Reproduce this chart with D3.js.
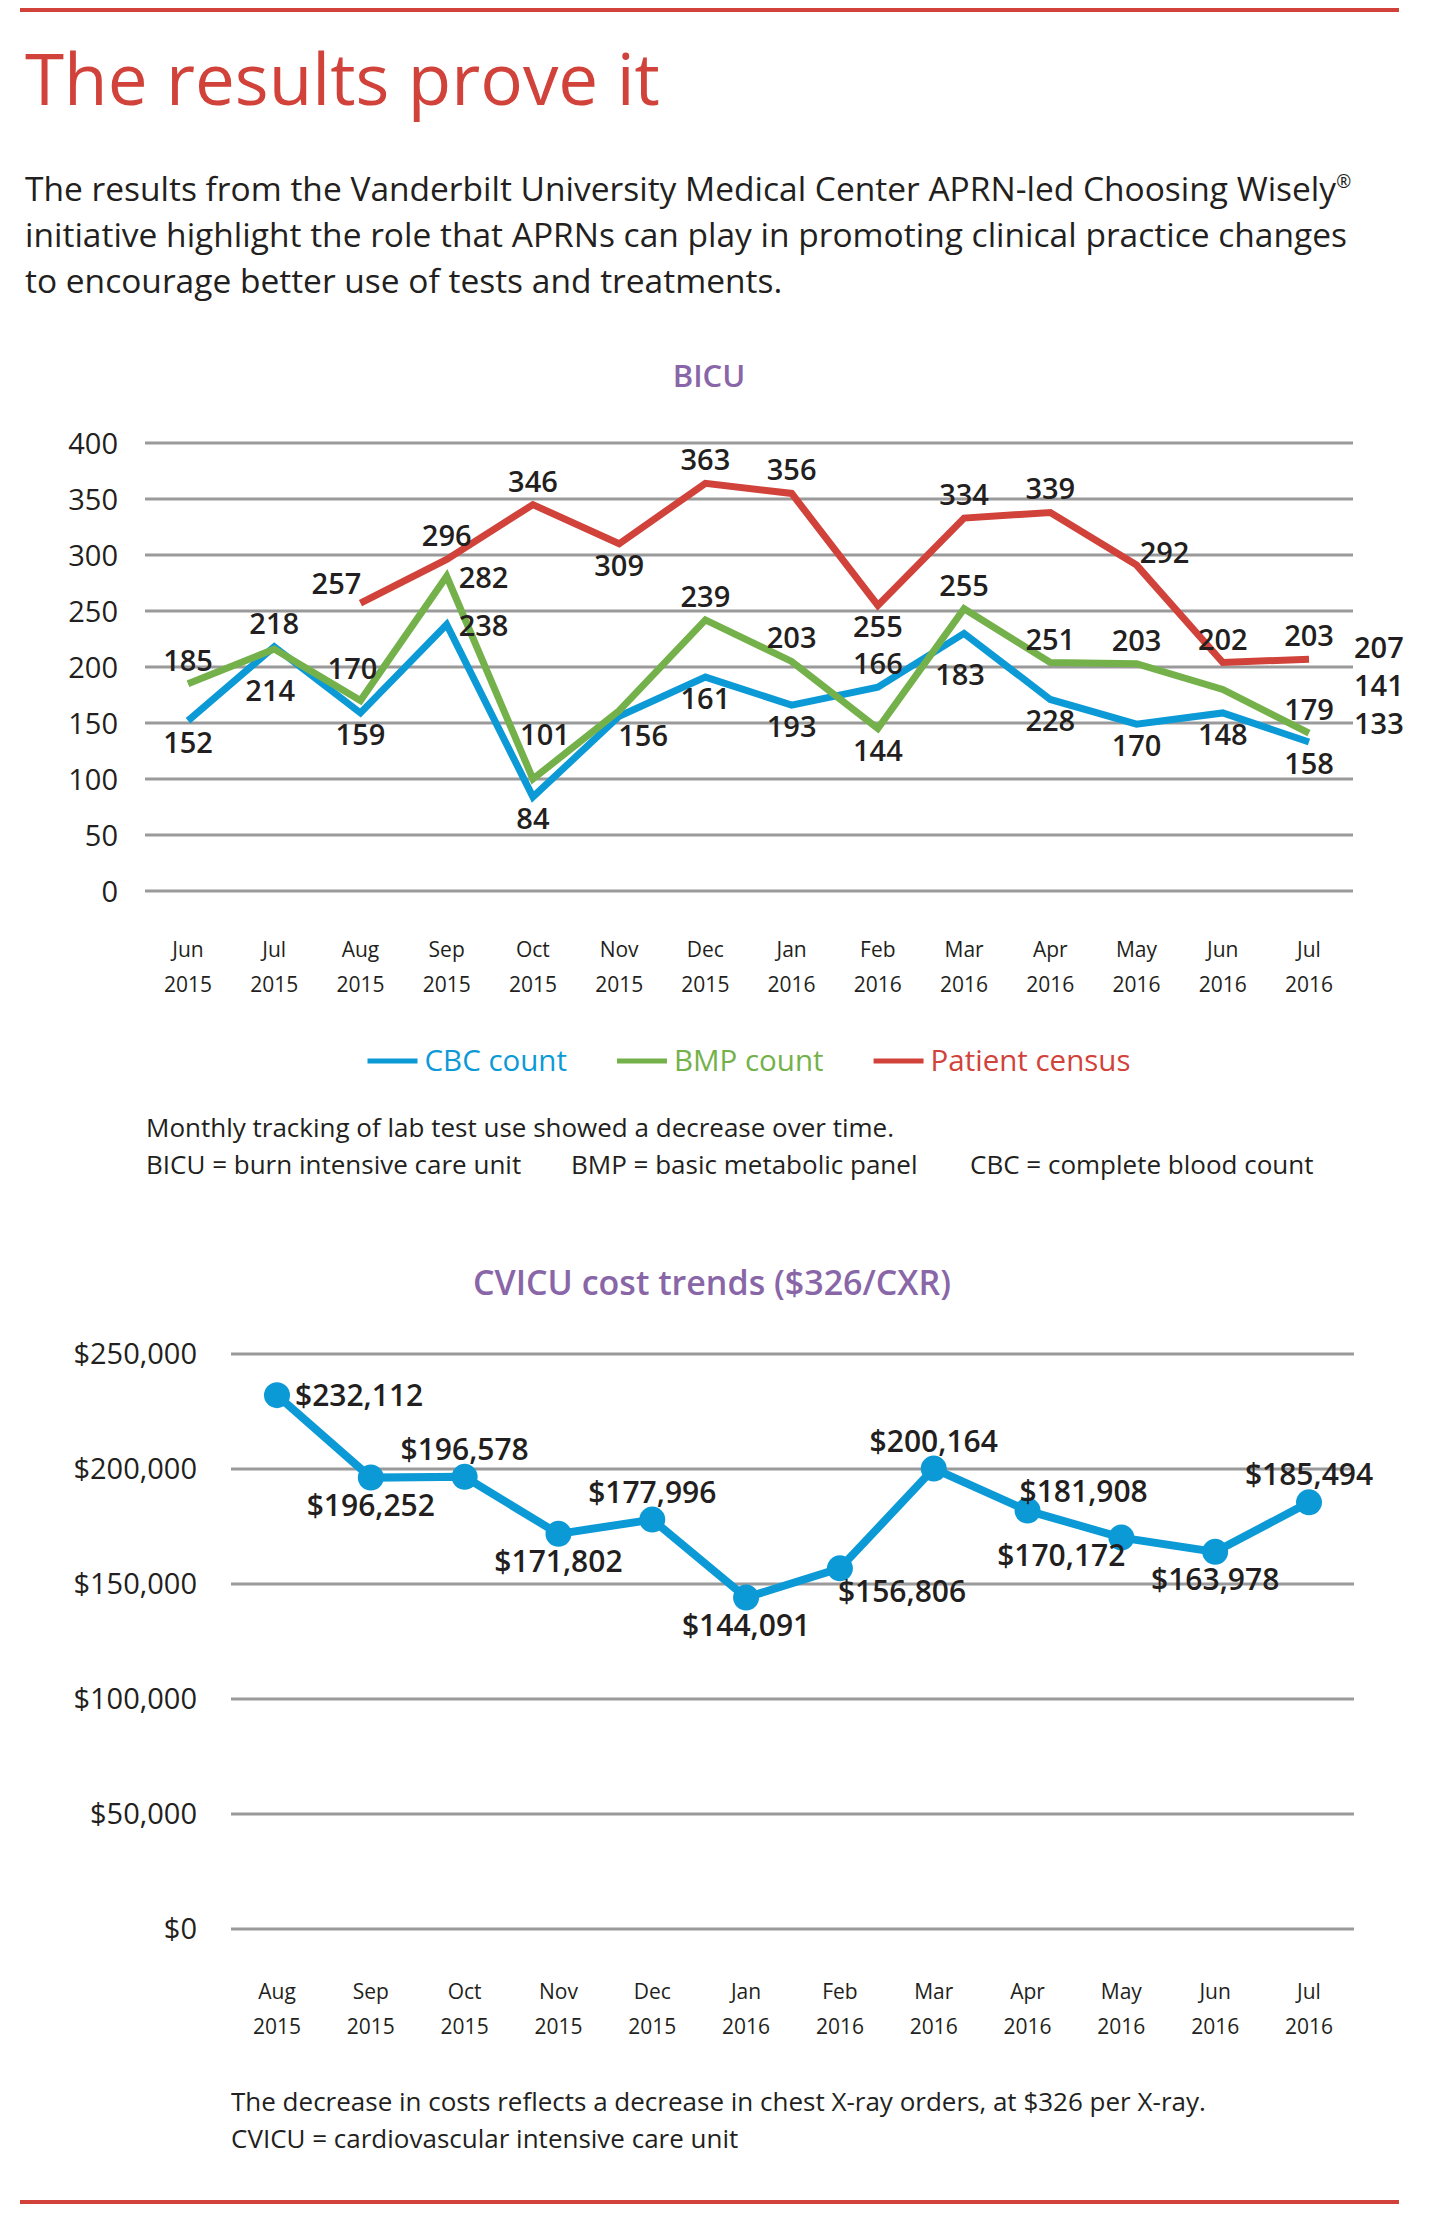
<!DOCTYPE html>
<html lang="en">
<head>
    <meta charset="UTF-8">
    <title>The results prove it</title>
    <script src="https://d3js.org/d3.v7.min.js"></script>
    <style>
        body { margin: 0; background: #fff; }
        svg { display: block; font-family: "Open Sans", sans-serif; }
        .grid line { stroke: #9a9a9a; stroke-width: 3; }
        .tick-label { fill: #231f20; }
        .val { fill: #231f20; font-weight: 600; }
    </style>
</head>
<body>
    <svg width="1448" height="2218"></svg>

    <script>
        // ---- data: BICU lab tests ----
        const bicuMonths = ["Jun 2015", "Jul 2015", "Aug 2015", "Sep 2015", "Oct 2015", "Nov 2015", "Dec 2015",
                            "Jan 2016", "Feb 2016", "Mar 2016", "Apr 2016", "May 2016", "Jun 2016", "Jul 2016"];
        const cbcCount = [152, 218, 159, 238, 84, 156, 191, 166, 182, 230, 171, 149, 159, 133];
        const bmpCount = [185, 216, 170, 281, 100, 161, 242, 205, 145, 252, 204, 203, 180, 141];
        const census   = [null, null, 257, 296, 345, 310, 364, 355, 255, 333, 338, 291, 204, 207];
        const bicuTicks = [0, 50, 100, 150, 200, 250, 300, 350, 400];

        // data labels as printed in the source: [month index, text, side]
        const cbcLabels = [[0, "152", "below"], [1, "218", "above"], [2, "159", "below"], [3, "238", "right"],
                           [4, "84", "below"], [5, "156", "belowRight"], [6, "161", "below"], [7, "193", "below"],
                           [8, "166", "above"], [9, "183", "low"], [10, "228", "below"], [11, "170", "below"],
                           [12, "148", "below"], [13, "158", "below"]];
        const bmpLabels = [[0, "185", "above"], [1, "214", "low"], [2, "170", "aboveHigh"], [3, "282", "right"],
                           [4, "101", "high"], [6, "239", "above"], [7, "203", "above"], [8, "144", "below"],
                           [9, "255", "above"], [10, "251", "above"], [11, "203", "above"], [13, "179", "above"]];
        const censusLabels = [[2, "257", "aboveLeft"], [3, "296", "above"], [4, "346", "above"], [5, "309", "below"],
                              [6, "363", "above"], [7, "356", "above"], [8, "255", "below"], [9, "334", "above"],
                              [10, "339", "above"], [11, "292", "aboveRight"], [12, "202", "above"], [13, "203", "above"]];
        const endLabels = ["207", "141", "133"];

        // ---- data: CVICU cost ----
        const cvicuMonths = ["Aug 2015", "Sep 2015", "Oct 2015", "Nov 2015", "Dec 2015", "Jan 2016",
                             "Feb 2016", "Mar 2016", "Apr 2016", "May 2016", "Jun 2016", "Jul 2016"];
        const cvicuCost = [232112, 196252, 196578, 171802, 177996, 144091, 156806, 200164, 181908, 170172, 163978, 185494];
        const cvicuSides = ["right", "below", "above", "below", "above", "below",
                            "belowRight", "above", "aboveRight", "belowLeft", "below", "above"];
        const cvicuTicks = [0, 50000, 100000, 150000, 200000, 250000];

        const RED = "#d1423a", BLUE = "#0c9ad7", GREEN = "#74b14a", PURPLE = "#8966a7", INK = "#231f20";

        const svg = d3.select("svg");

        // frame rules + heading
        svg.append("line").attr("x1", 20).attr("x2", 1399).attr("y1", 10).attr("y2", 10)
            .attr("stroke", RED).attr("stroke-width", 4);
        svg.append("line").attr("x1", 20).attr("x2", 1399).attr("y1", 2202).attr("y2", 2202)
            .attr("stroke", RED).attr("stroke-width", 4);

        svg.append("text").attr("x", 25).attr("y", 105)
            .attr("font-size", 71).attr("fill", RED)
            .text("The results prove it");

        const intro = [
            "The results from the Vanderbilt University Medical Center APRN-led Choosing Wisely",
            "initiative highlight the role that APRNs can play in promoting clinical practice changes",
            "to encourage better use of tests and treatments."
        ];
        const introText = svg.append("g").selectAll("text").data(intro).join("text")
            .attr("x", 25).attr("y", (d, i) => 201 + i * 46)
            .attr("font-size", 33.5).attr("fill", INK)
            .text(d => d);
        // registered mark, set small and raised
        introText.filter((d, i) => i === 0).append("tspan")
            .attr("font-size", 18).attr("dy", -13).text("\u00AE");

        // ================= BICU chart =================
        const x1 = d3.scalePoint().domain(d3.range(bicuMonths.length)).range([188, 1309]);
        const y1 = d3.scaleLinear().domain([0, 400]).range([891, 443]);

        svg.append("text").attr("x", 709).attr("y", 387).attr("text-anchor", "middle")
            .attr("font-size", 31).attr("font-weight", 600).attr("fill", PURPLE).text("BICU");

        const g1 = svg.append("g");
        g1.append("g").attr("class", "grid").selectAll("line").data(bicuTicks).join("line")
            .attr("x1", 145).attr("x2", 1353)
            .attr("y1", d => y1(d)).attr("y2", d => y1(d));
        g1.append("g").selectAll("text").data(bicuTicks).join("text")
            .attr("class", "tick-label")
            .attr("x", 118).attr("y", d => y1(d) + 11)
            .attr("text-anchor", "end").attr("font-size", 29)
            .text(d => d);

        const monthAxis = (g, scale, names, y0) => {
            const m = g.append("g").selectAll("text").data(names).join("text")
                .attr("class", "tick-label").attr("text-anchor", "middle").attr("font-size", 21);
            m.append("tspan").attr("x", (d, i) => scale(i)).attr("y", y0).text(d => d.split(" ")[0]);
            m.append("tspan").attr("x", (d, i) => scale(i)).attr("y", y0 + 35).text(d => d.split(" ")[1]);
        };
        monthAxis(g1, x1, bicuMonths, 957);

        const series = [
            { name: "CBC count", values: cbcCount, color: BLUE, labels: cbcLabels },
            { name: "BMP count", values: bmpCount, color: GREEN, labels: bmpLabels },
            { name: "Patient census", values: census, color: RED, labels: censusLabels }
        ];

        const line1 = d3.line()
            .defined(d => d != null)
            .x((d, i) => x1(i))
            .y(d => y1(d));

        g1.append("g").selectAll("path").data(series).join("path")
            .attr("d", s => line1(s.values))
            .attr("fill", "none")
            .attr("stroke", s => s.color)
            .attr("stroke-width", 7)
            .attr("stroke-linejoin", "miter");

        // label offsets relative to the point they belong to
        const sides = {
            above:      { dx: 0,   dy: -13, anchor: "middle" },
            aboveHigh:  { dx: -8,  dy: -22, anchor: "middle" },
            high:       { dx: 12,  dy: -34, anchor: "middle" },
            below:      { dx: 0,   dy: 32,  anchor: "middle" },
            low:        { dx: -4,  dy: 52,  anchor: "middle" },
            right:      { dx: 12,  dy: 12,  anchor: "start" },
            belowRight: { dx: 24,  dy: 30,  anchor: "middle" },
            aboveLeft:  { dx: -24, dy: -9,  anchor: "middle" },
            aboveRight: { dx: 28,  dy: -2,  anchor: "middle" }
        };

        series.forEach(s => {
            g1.append("g").selectAll("text").data(s.labels).join("text")
                .attr("class", "val")
                .attr("font-size", 29)
                .attr("x", d => x1(d[0]) + sides[d[2]].dx)
                .attr("y", d => y1(s.values[d[0]]) + sides[d[2]].dy)
                .attr("text-anchor", d => sides[d[2]].anchor)
                .text(d => d[1]);
        });

        // end-of-line labels stacked at the right
        const last = bicuMonths.length - 1;
        g1.append("g").selectAll("text").data(endLabels).join("text")
            .attr("class", "val").attr("font-size", 29)
            .attr("x", 1354)
            .attr("y", (d, i) => y1(census[last]) - 1 + i * 38)
            .text(d => d);

        // legend
        const legend = g1.append("g");
        const items = legend.selectAll("g").data(series).join("g");
        items.append("line").attr("x1", 0).attr("x2", 50).attr("y1", -10).attr("y2", -10)
            .attr("stroke", s => s.color).attr("stroke-width", 5);
        items.append("text").attr("x", 57).attr("font-size", 29.5)
            .attr("fill", s => s.color).text(s => s.name);
        let lx = 0;
        items.each(function () {
            d3.select(this).attr("transform", `translate(${lx},0)`);
            lx += 57 + d3.select(this).select("text").node().getComputedTextLength() + 50;
        });
        lx -= 50;
        legend.attr("transform", `translate(${749 - lx / 2},1071)`);

        const notes1 = g1.append("g").attr("font-size", 26).attr("fill", INK);
        notes1.append("text").attr("x", 146).attr("y", 1137)
            .text("Monthly tracking of lab test use showed a decrease over time.");
        notes1.append("text").attr("x", 146).attr("y", 1174).text("BICU = burn intensive care unit");
        notes1.append("text").attr("x", 571).attr("y", 1174).text("BMP = basic metabolic panel");
        notes1.append("text").attr("x", 970).attr("y", 1174).text("CBC = complete blood count");

        // ================= CVICU chart =================
        const x2 = d3.scalePoint().domain(d3.range(cvicuMonths.length)).range([277, 1309]);
        const y2 = d3.scaleLinear().domain([0, 250000]).range([1929, 1354]);
        const money = d3.format("$,");

        svg.append("text").attr("x", 712).attr("y", 1295).attr("text-anchor", "middle")
            .attr("font-size", 34).attr("font-weight", 600).attr("fill", PURPLE)
            .text("CVICU cost trends ($326/CXR)");

        const g2 = svg.append("g");
        g2.append("g").attr("class", "grid").selectAll("line").data(cvicuTicks).join("line")
            .attr("x1", 231).attr("x2", 1354)
            .attr("y1", d => y2(d)).attr("y2", d => y2(d));
        g2.append("g").selectAll("text").data(cvicuTicks).join("text")
            .attr("class", "tick-label")
            .attr("x", 197).attr("y", d => y2(d) + 10)
            .attr("text-anchor", "end").attr("font-size", 29)
            .text(d => money(d));

        monthAxis(g2, x2, cvicuMonths, 1999);

        const line2 = d3.line().x((d, i) => x2(i)).y(d => y2(d));
        g2.append("path").attr("d", line2(cvicuCost))
            .attr("fill", "none").attr("stroke", BLUE).attr("stroke-width", 8);
        g2.append("g").selectAll("circle").data(cvicuCost).join("circle")
            .attr("cx", (d, i) => x2(i)).attr("cy", d => y2(d)).attr("r", 13)
            .attr("fill", BLUE);

        const sides2 = {
            above:      { dx: 0,  dy: -17, anchor: "middle" },
            below:      { dx: 0,  dy: 38,  anchor: "middle" },
            right:      { dx: 18, dy: 11,  anchor: "start" },
            belowRight: { dx: -2, dy: 34,  anchor: "start" },
            aboveRight: { dx: -8, dy: -9,  anchor: "start" },
            belowLeft:  { dx: 4,  dy: 28,  anchor: "end" }
        };
        g2.append("g").selectAll("text").data(cvicuCost).join("text")
            .attr("class", "val").attr("font-size", 30)
            .attr("x", (d, i) => x2(i) + sides2[cvicuSides[i]].dx)
            .attr("y", (d, i) => y2(d) + sides2[cvicuSides[i]].dy)
            .attr("text-anchor", (d, i) => sides2[cvicuSides[i]].anchor)
            .text(d => money(d));

        const notes2 = g2.append("g").attr("font-size", 26).attr("fill", INK);
        notes2.append("text").attr("x", 231).attr("y", 2111)
            .text("The decrease in costs reflects a decrease in chest X-ray orders, at $326 per X-ray.");
        notes2.append("text").attr("x", 231).attr("y", 2148)
            .text("CVICU = cardiovascular intensive care unit");
    </script>
</body>
</html>
